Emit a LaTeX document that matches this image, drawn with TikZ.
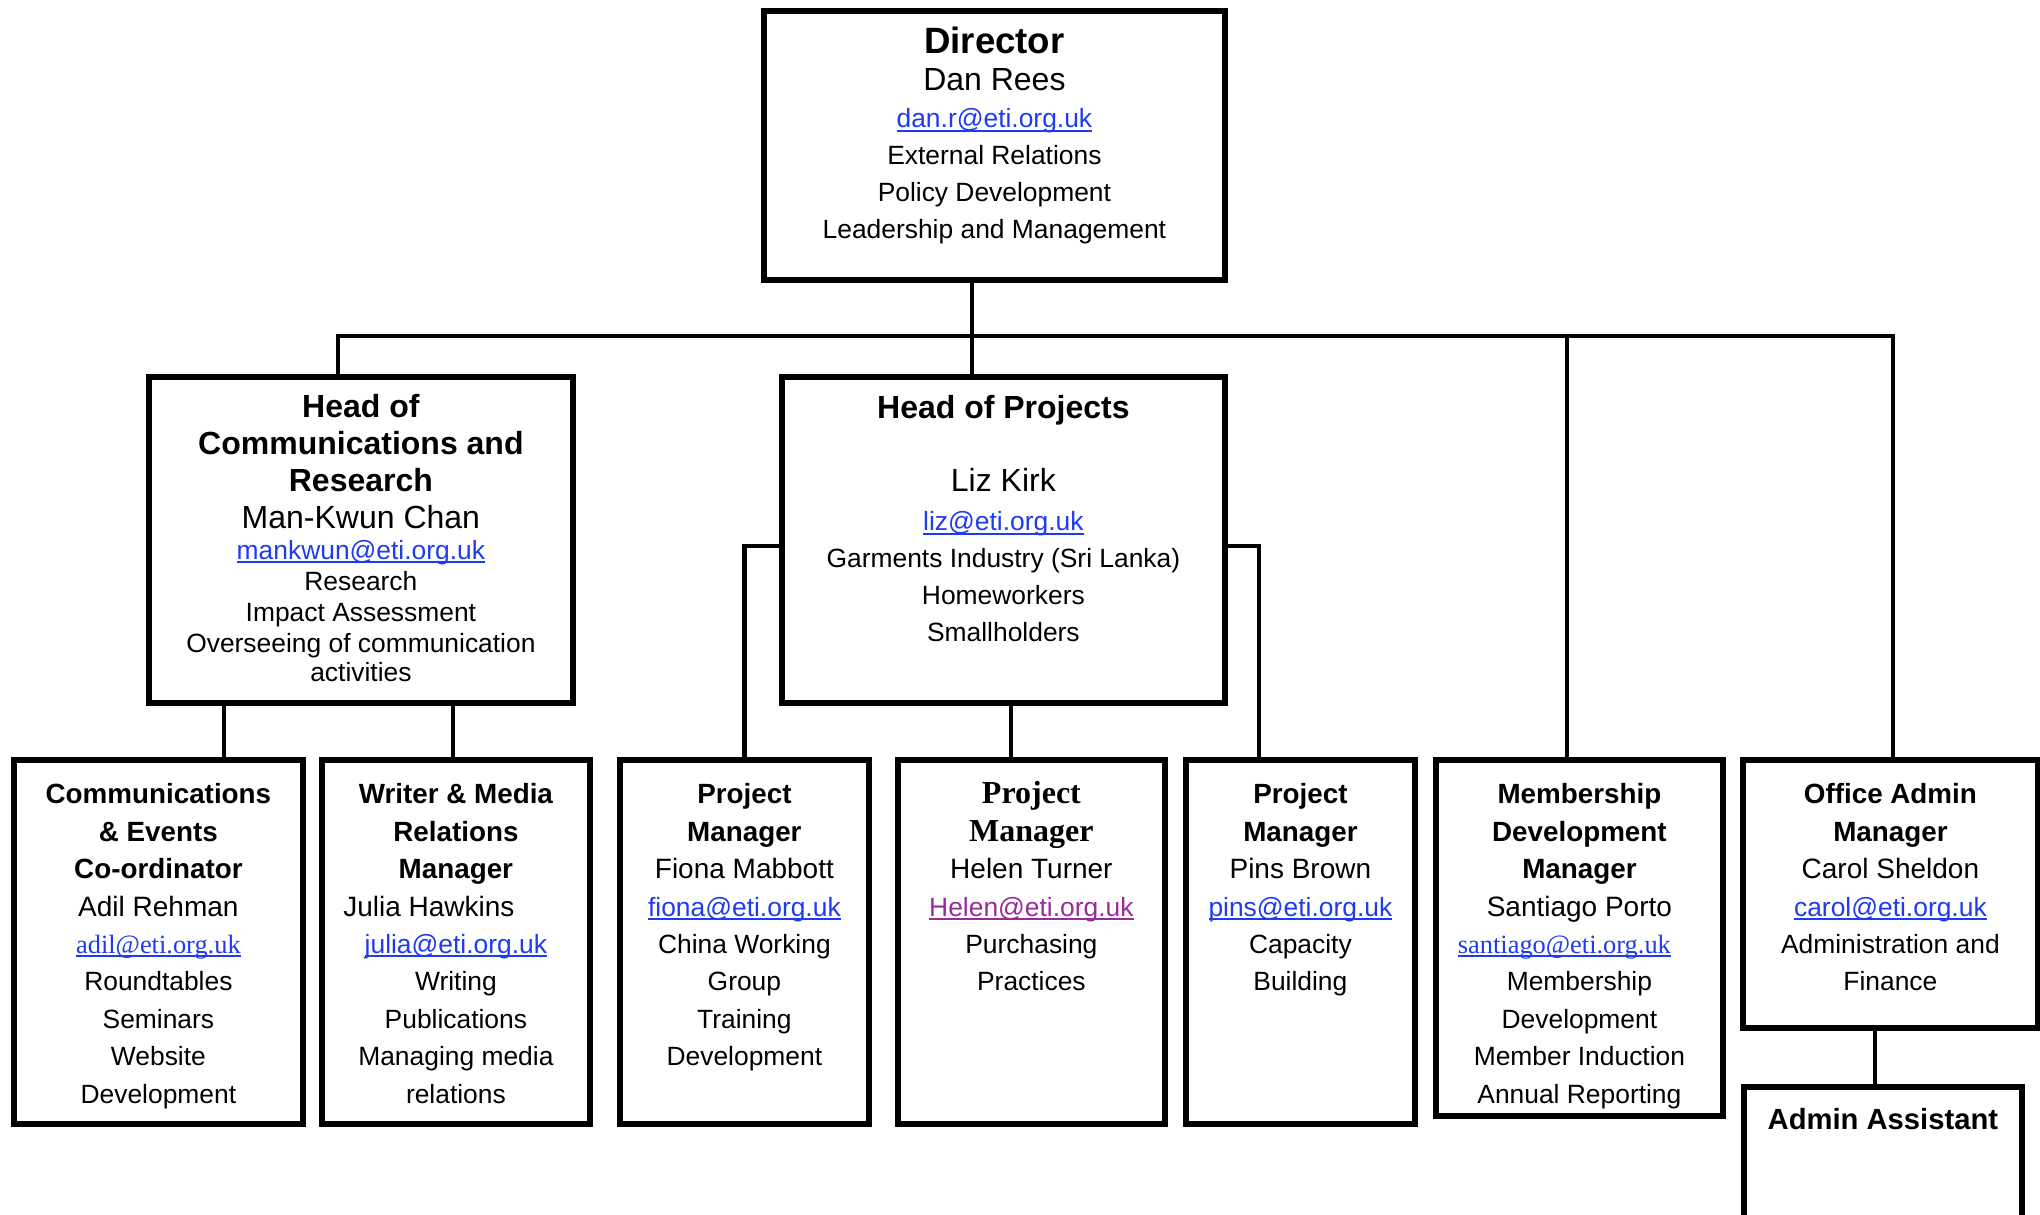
\documentclass[tikz,border=0pt]{standalone}
\usepackage{fontspec}
\setmainfont{Liberation Sans}
\newfontfamily\timesrm{Liberation Serif}
\usepackage{xcolor}
\definecolor{linkblue}{HTML}{1F3BF0}
\definecolor{linkpurple}{HTML}{982A9A}

\newcommand{\unitbox}[4]{\parbox[c][#2][t]{#1}{\centering\rule{0pt}{#3}#4}}
\newcommand{\maillink}[2][linkblue]{\leavevmode{\color{#1}\setbox0\hbox{#2}\rlap{\rule[-1.8pt]{\wd0}{0.9pt}}\box0}}
\newcommand{\boxttl}{\fontsize{13.9}{18.7}\selectfont\bfseries}
\newcommand{\boxname}{\normalfont\fontsize{14}{18.7}\selectfont}
\newcommand{\boxtxt}{\normalfont\fontsize{13.2}{18.7}\selectfont}

\begin{document}
\begin{tikzpicture}[x=0.5pt, y=-0.5pt,
    unit/.style={draw, line width=2.9pt, inner sep=0pt, anchor=north west},
    link/.style={line width=2.4pt}]
    \useasboundingbox (0,0) rectangle (2040,1215);
    \clip (0,0) rectangle (2040,1215);
    % Director and the two heads
    \node[unit] (dir) at (761,8) {\unitbox{230.5pt}{134.5pt}{21.5pt}{%
        \fontsize{18.3}{18.5}\selectfont\bfseries Director\par
        \normalfont\fontsize{16}{18.5}\selectfont Dan Rees\par
        \fontsize{13.2}{18.5}\selectfont\maillink{dan.r@eti.org.uk}\par
        External Relations\par Policy Development\par Leadership and Management}};
    \node[unit] (hcr) at (146,374) {\unitbox{212pt}{163pt}{20.5pt}{%
        \fontsize{16}{18.3}\selectfont\bfseries Head of\\ Communications and\\ Research\par
        \normalfont\fontsize{16}{18.5}\selectfont Man-Kwun Chan\par
        \fontsize{13.2}{15.6}\selectfont\maillink{mankwun@eti.org.uk}\par
        Research\par Impact Assessment\par Overseeing of communication\\[-1.5pt] activities}};
    \node[unit] (hop) at (779,374) {\unitbox{221.5pt}{163pt}{21pt}{%
        \fontsize{16}{18.5}\selectfont\bfseries Head of Projects\par\vspace{18pt}
        \normalfont\fontsize{16}{18.5}\selectfont Liz Kirk\par
        \fontsize{13.2}{19.5}\selectfont\maillink{liz@eti.org.uk}\par
        \fontsize{13.2}{18.5}\selectfont Garments Industry (Sri Lanka)\par Homeworkers\par Smallholders}};

    % Staff row
    \node[unit] (ce) at (11,757) {\unitbox{144.5pt}{182pt}{22pt}{%
        \boxttl Communications\\ \& Events\\ Co-ordinator\par \boxname Adil Rehman\par
        \boxtxt{\timesrm\maillink{adil@eti.org.uk}}\par Roundtables\par Seminars\par Website\par Development}};
    \node[unit] (wm) at (319,757) {\unitbox{134pt}{182pt}{22pt}{%
        \boxttl Writer \& Media\\ Relations\\ Manager\par \boxname Julia Hawkins\hspace*{27pt}\par
        \boxtxt\maillink{julia@eti.org.uk}\par Writing\par Publications\par Managing media\\ relations}};
    \node[unit] (pm1) at (617,757) {\unitbox{124.5pt}{182pt}{22pt}{%
        \boxttl Project\\ Manager\par \boxname Fiona Mabbott\par
        \boxtxt\maillink{fiona@eti.org.uk}\par China Working\\ Group\par Training\par Development}};
    \node[unit] (pm2) at (895,757) {\unitbox{133.5pt}{182pt}{22pt}{%
        {\timesrm\fontsize{16}{18.7}\selectfont\bfseries Project\\ Manager\par} \boxname Helen Turner\par
        \boxtxt\maillink[linkpurple]{Helen@eti.org.uk}\par Purchasing\\ Practices}};
    \node[unit] (pm3) at (1183,757) {\unitbox{114.5pt}{182pt}{22pt}{%
        \boxttl Project\\ Manager\par \boxname Pins Brown\par
        \boxtxt\maillink{pins@eti.org.uk}\par Capacity\\ Building}};
    \node[unit] (mdm) at (1433,757) {\unitbox{143.5pt}{178pt}{22pt}{%
        \boxttl Membership\\ Development\\ Manager\par \boxname Santiago Porto\par
        \boxtxt{\timesrm\maillink{santiago@eti.org.uk}}\hspace*{15pt}\par
        Membership\\ Development\par Member Induction\par Annual Reporting}};
    \node[unit] (oam) at (1740,757) {\unitbox{147.5pt}{134pt}{22pt}{%
        \boxttl Office Admin\\ Manager\par \boxname Carol Sheldon\par
        \boxtxt\maillink{carol@eti.org.uk}\par Administration and\\ Finance}};
    \node[unit] (aa) at (1741,1084) {\unitbox{139pt}{90pt}{21.5pt}{%
        \fontsize{14.6}{18.7}\selectfont\bfseries Admin Assistant}};

    % Connectors
    \coordinate (bus1) at (338,336);
    \coordinate (bus2) at (972,336);
    \coordinate (bus3) at (1567,336);
    \coordinate (bus4) at (1893,336);
    \coordinate (t1) at (224,0);
    \coordinate (t2) at (453,0);
    \coordinate (t3) at (1011,0);
    \coordinate (t4) at (1875,0);
    \coordinate (hl) at (742,546);
    \coordinate (hr) at (1259,546);
    \draw[link] (hcr.north -| bus1) -- (bus1) -- (bus4) -- (oam.north -| bus4);
    \draw[link] (dir.south -| bus2) -- (hop.north -| bus2);
    \draw[link] (bus3) -- (mdm.north -| bus3);
    \draw[link] (hcr.south -| t1) -- (ce.north -| t1);
    \draw[link] (hcr.south -| t2) -- (wm.north -| t2);
    \draw[link] (hop.west |- hl) -| (pm1.north);
    \draw[link] (hop.east |- hr) -- (hr) -- (pm3.north -| hr);
    \draw[link] (hop.south -| t3) -- (pm2.north -| t3);
    \draw[link] (oam.south -| t4) -- (aa.north -| t4);
\end{tikzpicture}
\end{document}
